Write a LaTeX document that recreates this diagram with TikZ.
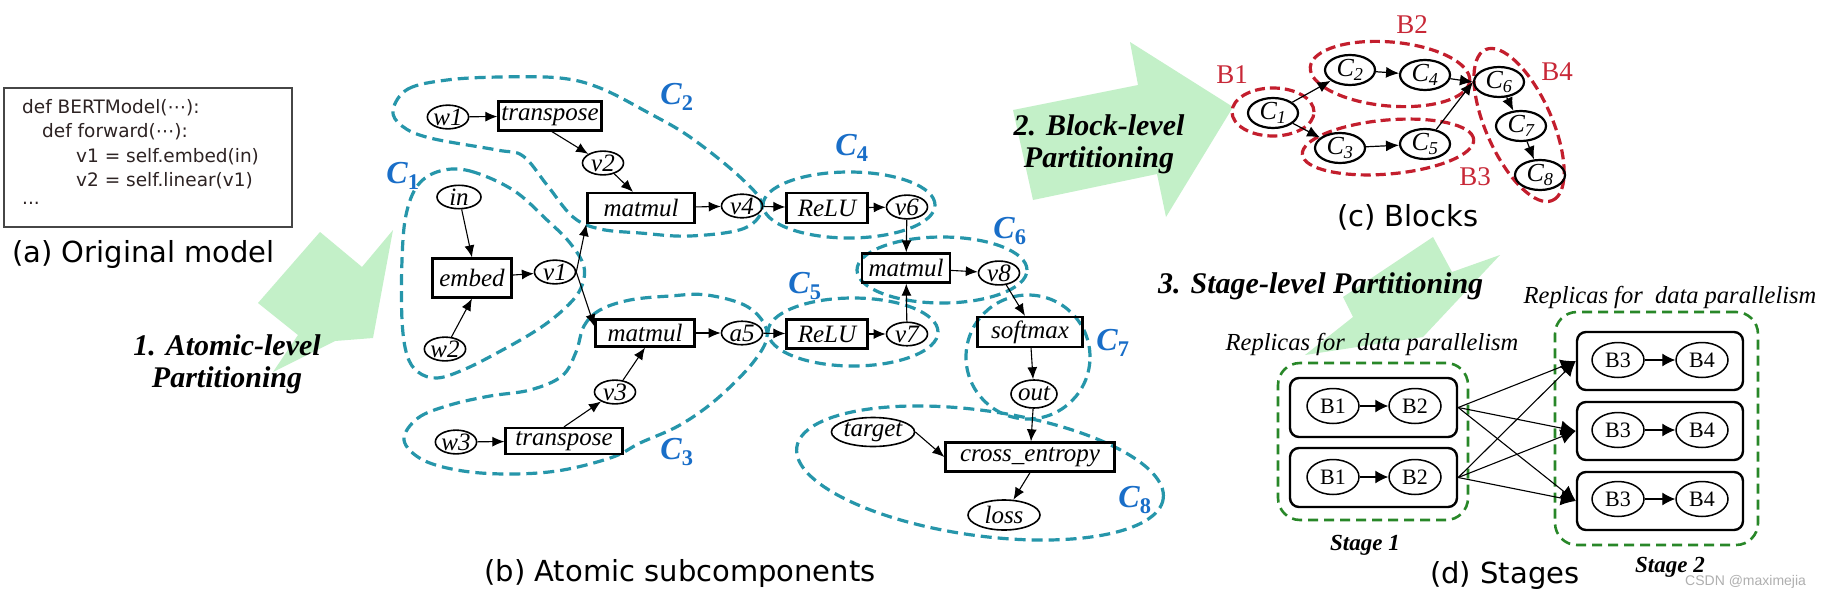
\documentclass[tikz,border=0pt]{standalone}
\usepackage{fontspec}
\setmainfont{Liberation Serif}
\newfontfamily\dejavu{DejaVu Sans}
\newfontfamily\libsans{Liberation Sans}
\usetikzlibrary{arrows.meta,shapes.geometric}
\definecolor{arrgreen}{RGB}{195,240,200}
\definecolor{clteal}{RGB}{38,150,170}
\definecolor{clred}{RGB}{195,30,45}
\definecolor{clgreen}{RGB}{40,135,40}
\definecolor{clblue}{RGB}{25,110,200}
\definecolor{blkred}{RGB}{200,40,55}
\definecolor{codegray}{RGB}{70,70,70}
\definecolor{codeink}{RGB}{45,35,35}
\definecolor{wmgray}{RGB}{175,175,175}
\newcommand{\opfont}{\fontsize{25}{25}\selectfont\itshape}
\tikzset{
  clus/.style={draw=clteal, line width=3.2pt, dash pattern=on 11pt off 6pt},
  blus/.style={draw=clred, line width=3.2pt, dash pattern=on 10pt off 5pt},
  stg/.style={draw=clgreen, line width=2.6pt, dash pattern=on 10pt off 6pt, rounded corners=22pt, rectangle, inner sep=0pt},
  opbox/.style={draw, line width=2.3pt, rectangle, inner sep=0pt, font=\opfont},
  vnode/.style={draw, line width=1.6pt, ellipse, inner sep=0pt, minimum width=41pt, minimum height=22pt, font=\opfont},
  ar/.style={-{Latex[length=12pt,width=10pt]}, line width=1.1pt},
  blk/.style={draw, line width=2.2pt, ellipse, inner sep=0pt, minimum width=50pt, minimum height=30pt, font=\fontsize{26}{26}\selectfont\itshape},
  bedge/.style={-{Latex[length=13pt,width=11pt]}, line width=1.2pt},
  blab/.style={text=blkred, font=\fontsize{27}{27}\selectfont, inner sep=0pt},
  clab/.style={text=clblue, font=\fontsize{32}{32}\selectfont\bfseries\itshape, inner sep=0pt},
  rbox/.style={draw, line width=2.4pt, rounded corners=9pt, rectangle, inner sep=0pt, minimum width=167pt, minimum height=59pt},
  bv/.style={draw, line width=1.5pt, ellipse, inner sep=0pt, minimum width=52pt, minimum height=35pt, font=\fontsize{22}{22}\selectfont},
  sedge/.style={-{Latex[length=15pt,width=15pt]}, line width=1.1pt},
  iedge/.style={-{Latex[length=13pt,width=13pt]}, line width=1.1pt},
  stxt/.style={font=\fontsize{30}{30}\selectfont\bfseries\itshape, inner sep=0pt},
  rtxt/.style={font=\fontsize{24.5}{24.5}\selectfont\itshape, inner sep=0pt},
  stlab/.style={font=\fontsize{23}{23}\selectfont\bfseries\itshape, inner sep=0pt},
  captxt/.style={font=\dejavu\fontsize{29}{29}\selectfont, inner sep=0pt},
  codetxt/.style={font=\dejavu\fontsize{18.5}{18.5}\selectfont, text=codeink, inner sep=0pt}
}
\begin{document}
\begin{tikzpicture}[x=1pt,y=-1pt]
\useasboundingbox (0,0) rectangle (1822,597);
\fill[white] (0,0) rectangle (1822,597);

% ---------- green step arrows ----------
\fill[arrgreen] (258,303) -- (320,232) -- (362,267) -- (393,230) -- (373,338) -- (335,341) -- (273,372) -- (298,335) -- cycle;
\fill[arrgreen] (1013,110) -- (1138,85) -- (1130,42) -- (1233,107) -- (1166,217) -- (1157,174) -- (1033,200) -- cycle;
\fill[arrgreen] (1343,297) -- (1433,237) -- (1452,272) -- (1500,255) -- (1423,337) -- (1390,342) -- (1305,355) -- (1353,317) -- cycle;

% ---------- (a) original model ----------
\node[draw=codegray, line width=1.5pt, minimum width=288pt, minimum height=139pt, inner sep=0pt] (codebox) at (148,157.5) {};
\node[codetxt, anchor=base west] (l1) at (22,113) {def BERTModel(⋯):};
\node[codetxt, anchor=base west] (l2) at (42,137) {def forward(⋯):};
\node[codetxt, anchor=base west] (l3) at (76,162) {v1 = self.embed(in)};
\node[codetxt, anchor=base west] (l4) at (76,186) {v2 = self.linear(v1)};
\node[codetxt, anchor=base west] (l5) at (22,204) {...};
\node[captxt, anchor=base west] (capa) at (12,262) {(a) Original model};

% ---------- (b) clusters ----------
\draw[clus] plot[smooth cycle, tension=0.6] coordinates {(440,171) (470,171) (513,190) (547,220) (570,243) (584,267) (580,290) (563,310) (537,330) (497,353) (463,370) (437,378) (418,372) (407,355) (402,320) (402,260) (406,215) (418,185)};
\draw[clus] plot[smooth cycle, tension=0.6] coordinates {(393,110) (408,89) (447,80) (500,77) (560,78) (600,88) (647,112) (690,137) (740,177) (762,205) (745,228) (690,236) (640,233) (600,229) (573,217) (547,185) (523,156) (497,150) (430,138) (402,126)};
\draw[clus] plot[smooth cycle, tension=0.6] coordinates {(404,440) (418,418) (450,405) (490,396) (530,390) (562,376) (576,352) (584,326) (600,310) (630,300) (670,296) (707,295) (748,307) (767,332) (755,360) (718,398) (680,425) (640,443) (613,457) (563,470) (513,474) (463,471) (423,460)};
\node[clus, ellipse, minimum width=172pt, minimum height=66pt] (C4e) at (849,205) {};
\node[clus, ellipse, minimum width=170pt, minimum height=68pt] (C5e) at (853,332) {};
\node[clus, ellipse, minimum width=170pt, minimum height=66pt] (C6e) at (942,270) {};
\node[clus, ellipse, minimum width=124pt, minimum height=124pt] (C7e) at (1028,357) {};
\node[clus, ellipse, minimum width=370pt, minimum height=125pt, rotate=-8] (C8e) at (980,473) {};

\node[clab] (c1l) at (403,176) {C\textsubscript{\upshape 1}};
\node[clab] (c2l) at (677,97) {C\textsubscript{\upshape 2}};
\node[clab] (c3l) at (677,452) {C\textsubscript{\upshape 3}};
\node[clab] (c4l) at (852,148) {C\textsubscript{\upshape 4}};
\node[clab] (c5l) at (805,286) {C\textsubscript{\upshape 5}};
\node[clab] (c6l) at (1010,231) {C\textsubscript{\upshape 6}};
\node[clab] (c7l) at (1113,343) {C\textsubscript{\upshape 7}};
\node[clab] (c8l) at (1135,500) {C\textsubscript{\upshape 8}};

% ---------- (b) nodes ----------
\node[vnode, minimum width=40pt, minimum height=21pt] (w1) at (448,117) {w1};
\node[opbox, minimum width=103pt, minimum height=29pt] (tA) at (550,116) {transpose};
\node[vnode] (v2) at (603,163) {v2};
\node[opbox, minimum width=107pt, minimum height=30pt] (mmA) at (641,208) {matmul};
\node[vnode, minimum width=44pt, minimum height=21pt] (in) at (459,197) {in};
\node[opbox, minimum width=79pt, minimum height=39pt] (embed) at (472,278) {embed};
\node[vnode] (v1) at (555,272) {v1};
\node[vnode] (w2) at (445,349) {w2};
\node[opbox, minimum width=99pt, minimum height=27pt] (mmB) at (645,333) {matmul};
\node[vnode] (v3) at (615,392) {v3};
\node[vnode, minimum width=40pt, minimum height=21pt] (w3) at (456,442) {w3};
\node[opbox, minimum width=117pt, minimum height=26pt] (tB) at (564,441) {transpose};
\node[vnode] (v4) at (742,206) {v4};
\node[opbox, minimum width=81pt, minimum height=30pt] (reluA) at (827,208) {ReLU};
\node[vnode] (v6) at (907,207) {v6};
\node[opbox, minimum width=88pt, minimum height=29pt] (mmC) at (906,268) {matmul};
\node[vnode] (v8) at (999,273) {v8};
\node[vnode] (a5) at (742,333) {a5};
\node[opbox, minimum width=81pt, minimum height=29pt] (reluB) at (827,334) {ReLU};
\node[vnode] (v7) at (907,334) {v7};
\node[opbox, minimum width=105pt, minimum height=30pt] (softmax) at (1030,332) {softmax};
\node[vnode, minimum width=46pt, minimum height=28pt] (out) at (1034,394) {out};
\node[vnode, minimum width=78pt, minimum height=29pt] (target) at (873,432) {target};
\node[opbox, minimum width=169pt, minimum height=29pt] (crossE) at (1030,457) {cross\_entropy};
\node[vnode, minimum width=72pt, minimum height=30pt] (loss) at (1004,515) {loss};

% ---------- (b) edges ----------
\draw[ar] (w1) -- (tA);
\draw[ar] ([xshift=2pt]tA.south) -- (v2);
\draw[ar] (v2) -- ([xshift=-8pt]mmA.north);
\draw[ar] (v1.east) -- (mmA.south west);
\draw[ar] (v1.east) -- ([yshift=-8pt]mmB.north west);
\draw[ar] (in) -- (embed.north);
\draw[ar] (w2) -- (embed.south);
\draw[ar] (embed) -- (v1);
\draw[ar] (w3) -- (tB);
\draw[ar] (tB.north) -- (v3);
\draw[ar] (v3) -- (mmB.south);
\draw[ar] (mmA) -- (v4);
\draw[ar] (v4) -- (reluA);
\draw[ar] (reluA) -- (v6);
\draw[ar] (v6) -- (mmC);
\draw[ar] (mmB) -- (a5);
\draw[ar] (a5) -- (reluB);
\draw[ar] (reluB) -- (v7);
\draw[ar] (v7) -- (mmC);
\draw[ar] (mmC) -- (v8);
\draw[ar] (v8) -- ([xshift=-5pt]softmax.north);
\draw[ar] (softmax) -- (out);
\draw[ar] (out) -- (crossE);
\draw[ar] (target.east) -- (crossE.west);
\draw[ar] (crossE.south) -- (loss);

\node[captxt, anchor=base] (capb) at (680,581) {(b) Atomic subcomponents};

% ---------- (c) blocks ----------
\node[blus, ellipse, minimum width=82pt, minimum height=48pt] (B1e) at (1273,112) {};
\node[blus, ellipse, minimum width=160pt, minimum height=64pt, rotate=-5] (B2e) at (1390,74) {};
\node[blus, ellipse, minimum width=172pt, minimum height=54pt, rotate=5] (B3e) at (1388,147) {};
\node[blus, ellipse, minimum width=165pt, minimum height=66pt, rotate=-66] (B4e) at (1519,125) {};

\node[blk] (b1) at (1273,113) {C\textsubscript{1}};
\node[blk] (b2) at (1350,70) {C\textsubscript{2}};
\node[blk] (b4) at (1425,75) {C\textsubscript{4}};
\node[blk] (b3) at (1340,148) {C\textsubscript{3}};
\node[blk] (b5) at (1425,144) {C\textsubscript{5}};
\node[blk] (b6) at (1499,82) {C\textsubscript{6}};
\node[blk] (b7) at (1521,126) {C\textsubscript{7}};
\node[blk] (b8) at (1540,175) {C\textsubscript{8}};

\draw[bedge] (b1) -- (b2);
\draw[bedge] (b1) -- (b3);
\draw[bedge] (b2) -- (b4);
\draw[bedge] (b3) -- (b5);
\draw[bedge] (b4) -- (b6.west);
\draw[bedge] (b5) -- (b6.west);
\draw[bedge] (b6) -- (b7);
\draw[bedge] (b7) -- (b8);

\node[blab] (lB1) at (1232,75) {B1};
\node[blab] (lB2) at (1412,25) {B2};
\node[blab] (lB3) at (1475,177) {B3};
\node[blab] (lB4) at (1557,72) {B4};

\node[captxt, anchor=base west] (capc) at (1337,226) {(c) Blocks};

% ---------- (d) stages ----------
\node[stg, minimum width=190pt, minimum height=157pt] (S1) at (1373,441.5) {};
\node[stg, minimum width=203pt, minimum height=233pt] (S2) at (1656.5,428.5) {};

\node[rbox] (R11) at (1373.5,407.5) {};
\node[rbox] (R12) at (1373.5,477.5) {};
\node[rbox, minimum width=166pt, minimum height=58pt] (R21) at (1660,361) {};
\node[rbox, minimum width=166pt, minimum height=58pt] (R22) at (1660,431) {};
\node[rbox, minimum width=166pt, minimum height=58pt] (R23) at (1660,501) {};

\node[bv] (s1a) at (1333,406) {B1};
\node[bv] (s2a) at (1415,406) {B2};
\node[bv] (s1b) at (1333,477) {B1};
\node[bv] (s2b) at (1415,477) {B2};
\node[bv] (s3a) at (1618,360) {B3};
\node[bv] (s4a) at (1702,360) {B4};
\node[bv] (s3b) at (1618,430) {B3};
\node[bv] (s4b) at (1702,430) {B4};
\node[bv] (s3c) at (1618,499) {B3};
\node[bv] (s4c) at (1702,499) {B4};

\draw[iedge] (s1a) -- (s2a);
\draw[iedge] (s1b) -- (s2b);
\draw[iedge] (s3a) -- (s4a);
\draw[iedge] (s3b) -- (s4b);
\draw[iedge] (s3c) -- (s4c);

\foreach \src in {R11,R12}{
  \foreach \dst in {R21,R22,R23}{
    \draw[sedge] (\src.east) -- (\dst.west);
  }
}

\node[rtxt, anchor=base] (rep1) at (1372,350) {Replicas for\ \ data parallelism};
\node[rtxt, anchor=base] (rep2) at (1670,303) {Replicas for\ \ data parallelism};
\node[stlab, anchor=base] (st1) at (1365,550) {Stage 1};
\node[stlab, anchor=base] (st2) at (1670,572) {Stage 2};
\node[captxt, anchor=base west] (capd) at (1430,583) {(d) Stages};

% ---------- step labels ----------
\node[stxt, anchor=base] (t1a) at (227,355) {1. Atomic-level};
\node[stxt, anchor=base] (t1b) at (227,387) {Partitioning};
\node[stxt, anchor=base] (t2a) at (1099,135) {2. Block-level};
\node[stxt, anchor=base] (t2b) at (1099,167) {Partitioning};
\node[stxt, anchor=base west] (t3) at (1158,293) {3. Stage-level Partitioning};

\node[font=\libsans\fontsize{14}{14}\selectfont, text=wmgray, anchor=base west, inner sep=0pt] (wm) at (1685,585) {CSDN @maximejia};
\end{tikzpicture}
\end{document}
